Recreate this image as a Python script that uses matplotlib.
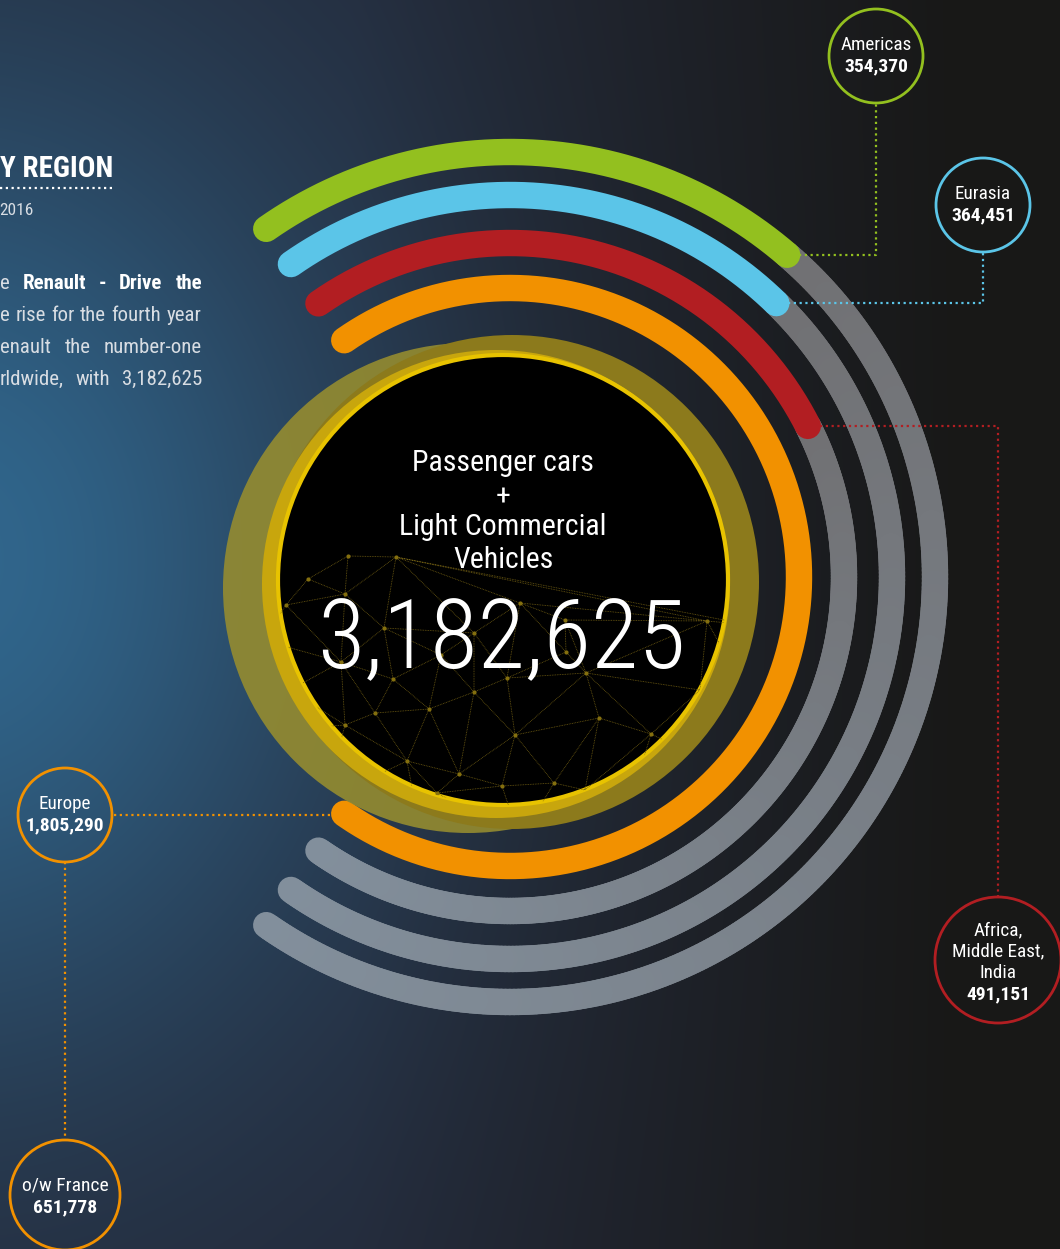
import numpy as np
import matplotlib.pyplot as plt
import matplotlib.tri as mtri
from matplotlib import font_manager
from matplotlib.patches import Circle
from matplotlib.collections import LineCollection

# Data read from the infographic
regions = ['Americas', 'Eurasia', 'Africa,\nMiddle East,\nIndia', 'Europe']
sales = [354370, 364451, 491151, 1805290]
sub_label = 'o/w France'
sub_sales = 651778
total_sales = 3182625
ring_colors = ['#93c01f', '#5bc5e8', '#b21e22', '#f29100']
# angle (deg) at which each coloured arc stops on its track
arc_end_deg = [49.3, 45.8, 26.9, -125.0]
track_start_deg = 125.0
track_stop_deg = -125.0

W, H = 1060, 1249

# pick the narrowest sans that is installed
font = 'DejaVu Sans'
for name in ['Roboto Condensed', 'Liberation Sans Narrow', 'Arial Narrow', 'Liberation Sans', 'Roboto']:
    try:
        font_manager.findfont(name, fallback_to_default=False)
        font = name
        break
    except ValueError:
        pass
plt.rcParams['font.family'] = [font, 'DejaVu Sans']

fig = plt.figure(figsize=(W / 100, H / 100), dpi=100)
ax = fig.add_axes([0, 0, 1, 1])
ax.set_xlim(0, W)
ax.set_ylim(H, 0)
ax.set_aspect('equal')
ax.axis('off')

# background: blue glow on the left fading to near black on the right
yy, xx = np.mgrid[0:H, 0:W]
base = np.array([0.095, 0.095, 0.092])
navy = np.array([0.14, 0.16, 0.22])
blue = np.array([0.19, 0.40, 0.55])
t = np.clip(1 - (xx - 350) / 600, 0, 1)[..., None]
g = np.exp(-((xx + 50) / 420) ** 2 - ((yy - 560) / 520) ** 2)[..., None]
bg = base * (1 - t) + navy * t
bg = bg * (1 - g) + blue * g
ax.imshow(bg, extent=(0, W, H, 0), zorder=0)

# ring layout
cx, cy = 510, 577
radii = [425, 382, 334, 289]
lw = 19  # points


def arc_xy(r, a0, a1, n=300):
    a = np.radians(np.linspace(a0, a1, n))
    return cx + r * np.cos(a), cy - r * np.sin(a)


# grey remainder of each track, shaded along its length
for r, a_end in zip(radii, arc_end_deg):
    if a_end <= track_stop_deg:
        continue
    x, y = arc_xy(r, a_end, track_stop_deg)
    pts = np.column_stack([x, y]).reshape(-1, 1, 2)
    segs = np.concatenate([pts[:-1], pts[1:]], axis=1)
    s = np.linspace(0, 1, len(segs))[:, None]
    cols = np.array([0.44, 0.44, 0.45]) * (1 - s) + np.array([0.51, 0.56, 0.61]) * s
    lc = LineCollection(segs, colors=cols, linewidths=lw, capstyle='round', zorder=2)
    ax.add_collection(lc)

# coloured arcs
for r, a_end, c in zip(radii, arc_end_deg, ring_colors):
    x, y = arc_xy(r, track_start_deg, a_end)
    ax.plot(x, y, color=c, lw=lw, solid_capstyle='round', zorder=3)

# central disc with golden rims
ax.add_patch(Circle((468, 588), 245, color='#958c30', alpha=0.9, zorder=4, lw=0))
ax.add_patch(Circle((512, 582), 247, color='#8c7a1c', zorder=4, lw=0))
ax.add_patch(Circle((496, 584), 234, color='#c8a60d', zorder=5, lw=0))
disc = Circle((503, 580), 225, facecolor='black', edgecolor='#e8c300', lw=3, zorder=6)
ax.add_patch(disc)

# faint constellation pattern inside the disc (decoration)
net_x = [348, 396, 308, 345, 286, 384, 341, 393, 441, 474, 520, 565, 566, 507, 474, 586, 707,
         429, 375, 345, 515, 599, 651, 407, 459, 502, 554, 585, 437, 290, 700,
         262, 275, 325, 420, 520, 625, 705, 745, 750]
net_y = [556, 557, 579, 594, 605, 628, 662, 679, 655, 633, 603, 620, 652, 678, 692, 673, 621,
         709, 713, 725, 735, 718, 734, 761, 774, 786, 783, 790, 793, 690, 690,
         640, 730, 800, 830, 840, 820, 760, 690, 625]
tri = mtri.Triangulation(net_x, net_y)
tl = ax.triplot(tri, color='#6e5c12', lw=0.6, ls=(0, (1, 1)), zorder=6.5)
for ln in tl:
    ln.set_clip_path(disc)
ax.scatter(net_x, net_y, s=4, color='#85700f', zorder=6.6, clip_path=disc)

for txt, ty in zip(['Passenger cars', '+', 'Light Commercial', 'Vehicles'], [463, 497, 527, 560]):
    ax.text(503, ty, txt, color='white', fontsize=21.5, ha='center', va='center', zorder=8)
ax.text(501, 642, f'{total_sales:,}', color='white', fontsize=70, fontweight='light',
        ha='center', va='center', zorder=8)

# label bubbles and dotted connectors
dot = (0, (1, 1.6))
bubbles = [(876, 56, 47), (983, 205, 47), (998, 960, 63), (65, 815, 47)]
for i, (name, val, c) in enumerate(zip(regions, sales, ring_colors)):
    bx, by, br = bubbles[i]
    ax.add_patch(Circle((bx, by), br, facecolor='none', edgecolor=c, lw=2, zorder=7))
    a = np.radians(arc_end_deg[i])
    ex = cx + radii[i] * np.cos(a)
    ey = cy - radii[i] * np.sin(a)
    if bx > cx:
        sx = ex + 12
        ty = by + br if by < ey else by - br
        ax.plot([sx, bx, bx], [ey, ey, ty], color=c, lw=1.6, ls=dot, zorder=7)
    else:
        ax.plot([ex - 14, bx + br], [by, by], color=c, lw=1.6, ls=dot, zorder=7)
    lines = name.split('\n')
    n = len(lines)
    step = 21
    y0 = by - n * step / 2 + (n - 1) * 1.5 - 1
    for k, ln in enumerate(lines):
        ax.text(bx, y0 + k * step, ln, color='white', fontsize=13.8, ha='center', va='center', zorder=8)
    ax.text(bx, y0 + n * step + 1, f'{val:,}', color='white', fontsize=14, fontweight='bold',
            ha='center', va='center', zorder=8)

# France sub-bubble
fx, fy, fr = 65, 1195, 55
ax.add_patch(Circle((fx, fy), fr, facecolor='none', edgecolor=ring_colors[3], lw=2, zorder=7))
ax.plot([fx, fx], [815 + 47, fy - fr], color=ring_colors[3], lw=1.6, ls=dot, zorder=7)
ax.text(fx, fy - 10, sub_label, color='white', fontsize=14, ha='center', va='center', zorder=8)
ax.text(fx, fy + 12, f'{sub_sales:,}', color='white', fontsize=14, fontweight='bold',
        ha='center', va='center', zorder=8)

# cropped heading and intro text on the left
ax.text(113, 169, 'Y REGION', color='white', fontsize=21, fontweight='bold', ha='right', va='center')
ax.plot([0, 113], [188, 188], color='white', lw=1.6, ls=dot)
ax.text(34, 210, '2016', color='#d8dde3', fontsize=12.5, ha='right', va='center')

renderer = fig.canvas.get_renderer()


def justified(words, y, x0=0, x1=202, size=15):
    objs = []
    for w, bold in words:
        objs.append(ax.text(0, y, w, color='white' if bold else '#d8dde3', fontsize=size,
                            fontweight='bold' if bold else 'normal', ha='left', va='center'))
    widths = [o.get_window_extent(renderer).width for o in objs]
    gap = (x1 - x0 - sum(widths)) / (len(objs) - 1)
    x = x0
    for o, wd in zip(objs, widths):
        o.set_x(x)
        x += wd + gap


justified([('e', False), ('Renault', True), ('-', True), ('Drive', True), ('the', True)], 283)
para = ['e rise for the fourth year', 'enault the number-one', 'rldwide, with 3,182,625']
for k, ln in enumerate(para):
    justified([(w, False) for w in ln.split()], 315 + 32 * k)

fig.savefig('out.png', dpi=100)
